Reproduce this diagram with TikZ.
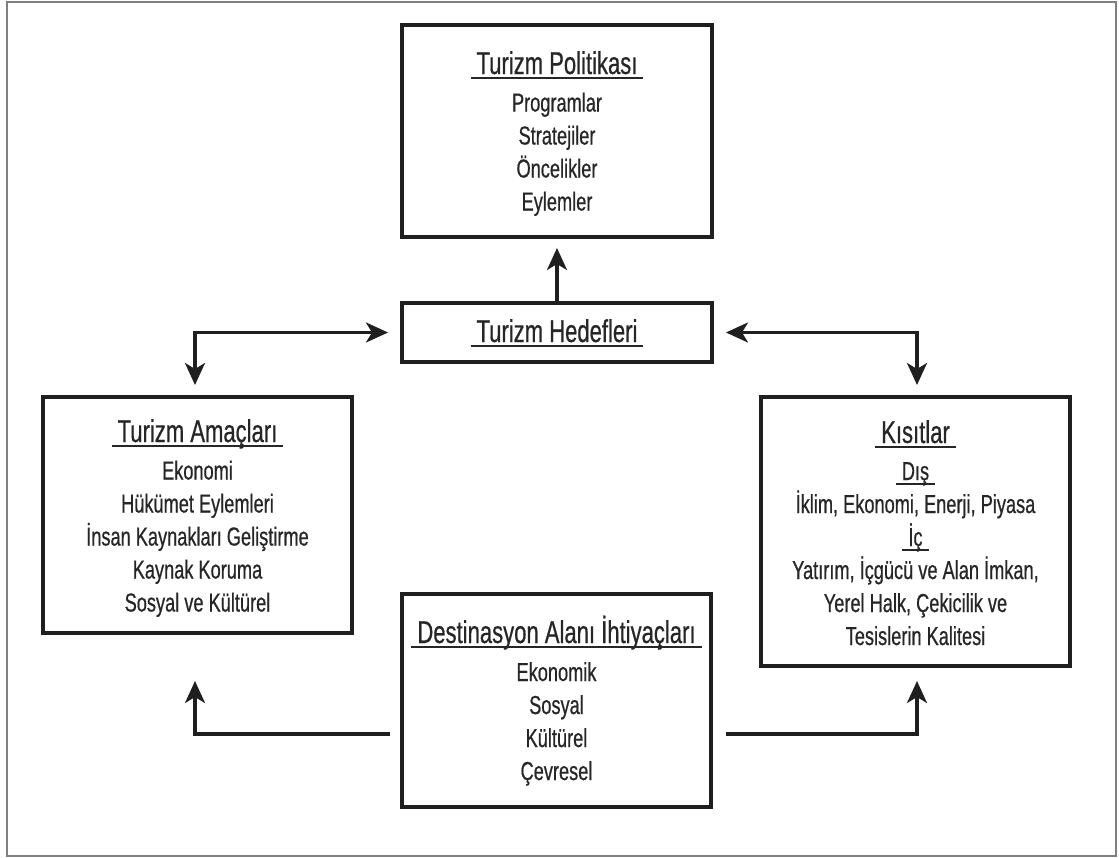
\documentclass[tikz,border=0pt]{standalone}
\usepackage{fontspec}
\setmainfont[FakeStretch=0.70,FakeBold=0.6]{Liberation Sans}
\usetikzlibrary{arrows.meta}
\newcommand\ulin[1]{\setbox0\hbox{\hspace{6pt}#1\hspace{6pt}}\rlap{\rule[-5pt]{\wd0}{2.2pt}}\box0}
\newcommand\ttl[1]{{\fontsize{31.5}{33}\selectfont\ulin{#1}}}
\begin{document}
\begin{tikzpicture}[x=1pt,y=-1pt,
  box/.style={draw=black!88, line width=3.1pt, inner sep=0pt, outer sep=0pt},
  txt/.style={anchor=base, inner sep=0pt, outer sep=0pt, font=\fontsize{26}{33}\selectfont, text=black!85},
  conn/.style={line width=3.1pt, draw=black!88},
  tip/.style={-{Stealth[length=22pt,width=20pt,inset=6pt]}},
  dtip/.style={{Stealth[length=22pt,width=20pt,inset=6pt]}-{Stealth[length=22pt,width=20pt,inset=6pt]}}
]
\useasboundingbox (0,0) rectangle (1119,857);
\draw[draw=black!50, line width=2pt] (6.8,1.8) rectangle (1116,856);

% boxes
\node[box, minimum width=310pt, minimum height=212pt] (pol) at (557,131) {};
\node[box, minimum width=310pt, minimum height=59pt] (hed) at (557,332.5) {};
\node[box, minimum width=309pt, minimum height=236pt] (ama) at (197.5,515) {};
\node[box, minimum width=309pt, minimum height=269pt] (kis) at (915.5,531.5) {};
\node[box, minimum width=309pt, minimum height=213pt] (des) at (556.5,700.5) {};

% texts
\node[txt] (polt) at (557,74) {\begin{tabular}[t]{@{}c@{}}\ttl{Turizm Politikası}\\[4.5pt] Programlar\\ Stratejiler\\ Öncelikler\\ Eylemler\end{tabular}};
\node[txt] (hedt) at (557,342) {\ttl{Turizm Hedefleri}};
\node[txt] (amat) at (197.5,442) {\begin{tabular}[t]{@{}c@{}}\ttl{Turizm Amaçları}\\[4.5pt] Ekonomi\\ Hükümet Eylemleri\\ İnsan Kaynakları Geliştirme\\ Kaynak Koruma\\ Sosyal ve Kültürel\end{tabular}};
\node[txt] (kist) at (915.5,443) {\begin{tabular}[t]{@{}c@{}}\ttl{Kısıtlar}\\[4pt] \ulin{Dış}\\ İklim, Ekonomi, Enerji, Piyasa\\ \ulin{İç}\\ Yatırım, İçgücü ve Alan İmkan,\\ Yerel Halk, Çekicilik ve\\ Tesislerin Kalitesi\end{tabular}};
\node[txt] (dest) at (556.5,643) {\begin{tabular}[t]{@{}c@{}}\ttl{Destinasyon Alanı İhtiyaçları}\\[5pt] Ekonomik\\ Sosyal\\ Kültürel\\ Çevresel\end{tabular}};

% connectors
\coordinate (yb) at (0,734);
\draw[conn, tip, shorten >=11pt] (hed.north) -- (pol.south);
\draw[conn, dtip, shorten <=14pt, shorten >=12pt] (hed.west) -| ([xshift=-2.5pt]ama.north);
\draw[conn, dtip, shorten <=14pt, shorten >=12pt] (hed.east) -| ([xshift=1.5pt]kis.north);
\draw[conn, tip, shorten <=12pt, shorten >=48pt] (des.west |- yb) -| ([xshift=-2.5pt]ama.south);
\draw[conn, tip, shorten <=15pt, shorten >=15pt] (des.east |- yb) -| ([xshift=1.5pt]kis.south);
\end{tikzpicture}
\end{document}
